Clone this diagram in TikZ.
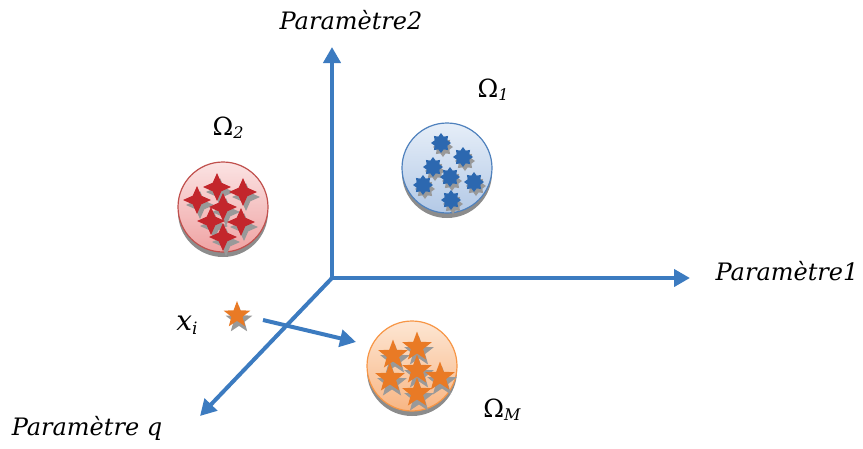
\documentclass[tikz,border=0pt]{standalone}
\usepackage{fontspec}
\setmainfont{DejaVu Serif}
\usetikzlibrary{arrows.meta,shapes.geometric}
\definecolor{axisblue}{HTML}{3C7BC0}
\definecolor{redline}{HTML}{C0504D}
\definecolor{redfillA}{HTML}{FBE3E3}
\definecolor{redfillB}{HTML}{EFA3A3}
\definecolor{redstar}{HTML}{C3262C}
\definecolor{blueline}{HTML}{4F81BD}
\definecolor{bluefillA}{HTML}{E6EEF8}
\definecolor{bluefillB}{HTML}{B3C9E6}
\definecolor{bluestar}{HTML}{2C68B0}
\definecolor{orline}{HTML}{F79646}
\definecolor{orfillA}{HTML}{FDE6D3}
\definecolor{orfillB}{HTML}{F8B684}
\definecolor{orstar}{HTML}{E97A25}
\begin{document}
\begin{tikzpicture}[x=1pt,y=-1pt,
  axis/.style={draw=axisblue,line width=4pt,-{Triangle[length=16pt,width=17pt]}},
  lbl/.style={font=\fontsize{24}{28}\selectfont\itshape,inner sep=0pt},
  omlbl/.style={font=\fontsize{25}{28}\selectfont,inner sep=0pt},
  disc/.style={circle,minimum size=90pt,line width=1.2pt,inner sep=0pt},
  shadowdisc/.style={circle,minimum size=90pt,fill=black!45,inner sep=0pt},
  rstar/.style={star,star points=4,star point ratio=2.3,minimum size=28pt,inner sep=0pt,fill=redstar},
  bstar/.style={star,star points=8,star point ratio=1.45,minimum size=20pt,inner sep=0pt,fill=bluestar},
  ostar/.style={star,star points=5,star point ratio=2.4,minimum size=31pt,inner sep=0pt,fill=orstar},
  sh/.style={fill=black!40},
]
\useasboundingbox (0,0) rectangle (863,448);
% axes
\coordinate (O) at (332,278);
\coordinate (ytip) at (332,47);
\coordinate (xtip) at (690,278);
\coordinate (qtip) at (200,416);
\draw[axis] (O) -- (ytip);
\draw[axis] (O) -- (xtip);
\draw[axis] (O) -- (qtip);
\node[lbl] (p2) at (351,20) {Paramètre2};
\node[lbl] (p1) at (787,271) {Paramètre1};
\node[lbl] (pq) at (87,428) {Paramètre q};

% red cluster
\node[shadowdisc] (r0s) at (223,212) {};
\node[disc,draw=redline,top color=redfillA,bottom color=redfillB] (r0) at (223,207) {};
\node[omlbl] (om2) at (228,128) {Ω\textit{\fontsize{16}{18}\selectfont\raisebox{-3pt}{2}}};
\foreach \x/\y [count=\i] in {217/187,243/192,197/200,223/207,211/221,241/222,223/237}{
  \node[rstar,sh] at (\x+3,\y+5) {};
  \node[rstar] (rs\i) at (\x,\y) {};
}

% blue cluster
\node[shadowdisc] (b0s) at (447,173) {};
\node[disc,draw=blueline,top color=bluefillA,bottom color=bluefillB] (b0) at (447,168) {};
\node[omlbl] (om1) at (493,90) {Ω\textit{\fontsize{16}{18}\selectfont\raisebox{-3pt}{1}}};
\foreach \x/\y [count=\i] in {441/143,463/157,433/167,450/177,423/185,474/182,451/200}{
  \node[bstar,sh] at (\x+2,\y+4) {};
  \node[bstar] (bs\i) at (\x,\y) {};
}

% orange cluster
\node[shadowdisc] (o0s) at (412,371) {};
\node[disc,draw=orline,top color=orfillA,bottom color=orfillB] (o0) at (412,366) {};
\node[omlbl] (omm) at (502,410) {Ω\textit{\fontsize{16}{18}\selectfont\raisebox{-3pt}{M}}};
\foreach \x/\y [count=\i] in {393/355,417/347,417/370,390/378,440/377,417/393}{
  \node[ostar,sh] at (\x+2,\y+5) {};
  \node[ostar] (os\i) at (\x,\y) {};
}

% x_i
\node[ostar,sh,minimum size=28pt] at (239,320) {};
\node[ostar,minimum size=28pt] (xi) at (237,315) {};
\node[lbl,font=\fontsize{28}{30}\selectfont\itshape] (xil) at (187,325) {x\raisebox{-4pt}{\fontsize{17}{18}\selectfont i}};
\coordinate (as) at (263,320);
\coordinate (ae) at (356,342);
\draw[axis] (as) -- (ae);
\end{tikzpicture}
\end{document}
